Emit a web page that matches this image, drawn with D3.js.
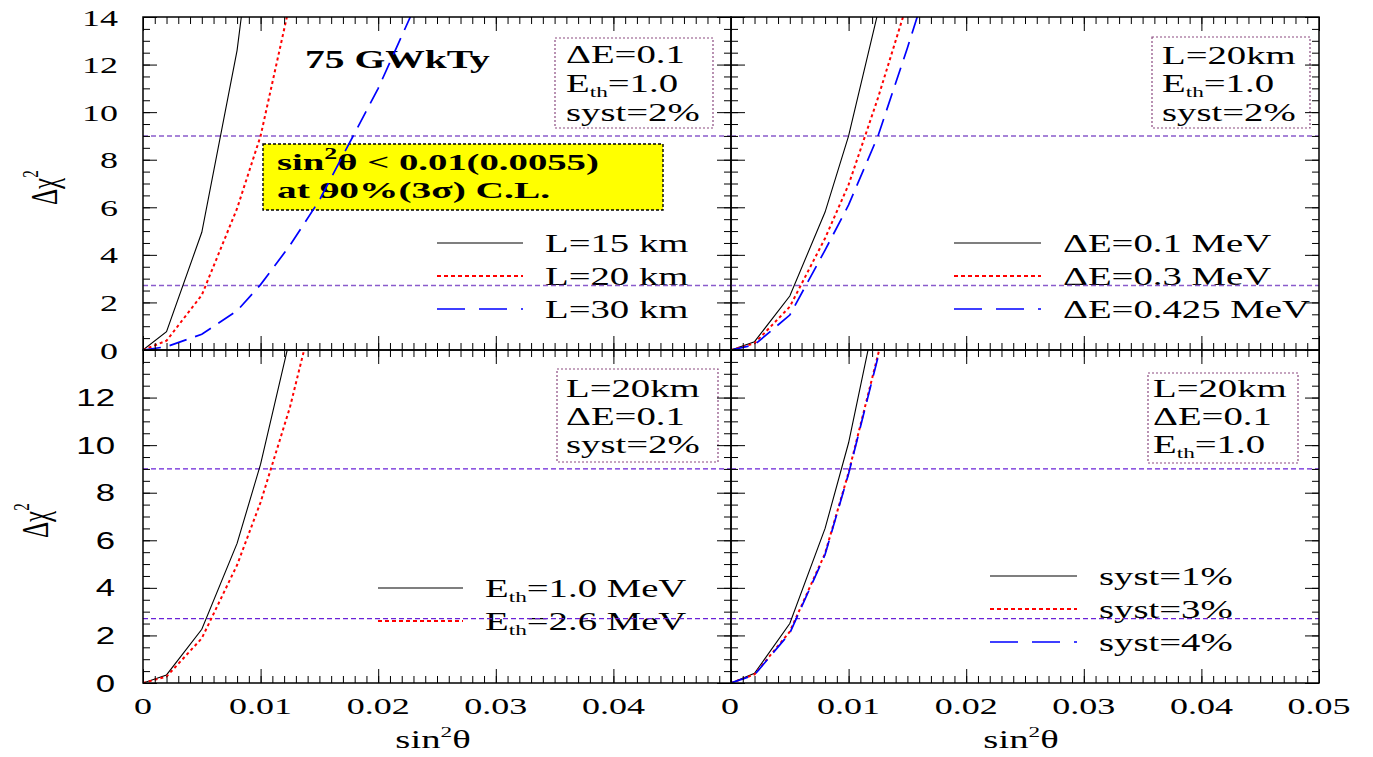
<!DOCTYPE html>
<html><head><meta charset="utf-8">
<script src="https://cdn.jsdelivr.net/npm/d3@7"></script>
<style>body{margin:0;background:#fff} svg{display:block}</style>
</head><body>
<svg id="c" width="1373" height="757"></svg>
<script>
// ---------------- DATA ----------------
const sinSq = [0, 0.002, 0.005, 0.008, 0.010, 0.0125, 0.015, 0.020, 0.025];
// top-left : baseline dependence
const chiL15 = [0, 0.77, 4.95, 12.6, 20.4, 30, 40, 60, 85];
const chiL20 = [0, 0.39, 2.31, 5.95, 9.0, 14.6, 20.5, 32, 46];
const chiL30 = [0, 0.14, 0.66, 1.65, 2.75, 4.4, 6.3, 11.0, 16.5];
// top-right : energy resolution
const chiDE01 = [0, 0.35, 2.27, 5.8, 9.0, 14.2, 19.5, 30, 42];
const chiDE03 = [0, 0.28, 1.82, 4.7, 6.95, 10.6, 14.6, 23, 33];
const chiDE0425 = [0, 0.22, 1.47, 4.2, 6.1, 9.0, 12.7, 20.5, 29];
// bottom-left : threshold
const chiEth10 = [0, 0.34, 2.26, 5.87, 9.2, 14.5, 19.8, 31, 43];
const chiEth26 = [0, 0.27, 1.88, 4.96, 7.6, 11.6, 16.6, 26, 37];
// bottom-right : systematics
const chiSyst1 = [0, 0.41, 2.5, 6.5, 10.1, 16.0, 22, 34, 48];
const chiSyst3 = [0, 0.36, 2.16, 5.45, 8.85, 13.8, 19, 30, 42];
const chiSyst4 = [0, 0.34, 2.1, 5.4, 8.8, 13.7, 18.9, 29.8, 41.5];

const clLevels = [9, 2.71];
const yMajor = [0, 2, 4, 6, 8, 10, 12, 14];
const yLabelsTop = ["0", "2", "4", "6", "8", "10", "12", "14"];
const yLabelsBottom = ["0", "2", "4", "6", "8", "10", "12"];
const xMajor = [0, 0.01, 0.02, 0.03, 0.04, 0.05];
const xLabels = ["0", "0.01", "0.02", "0.03", "0.04", "0.05"];

// ---------------- DRAW ----------------
const svg = d3.select("#c");
const SX = 1.55;
const SERIF = "'Liberation Serif','Times New Roman',serif";
const SANS = "'Liberation Sans',Arial,sans-serif";

function stext(parent, x, y, parts, o = {}) {
  const t = parent.append("text")
    .attr("font-family", o.family || SERIF)
    .attr("font-size", o.size || 25)
    .attr("font-weight", o.weight || "normal")
    .attr("text-anchor", o.anchor || "start")
    .attr("fill", "#000");
  let cur = 0;
  parts.forEach(p => {
    if (typeof p === "string") p = {t: p};
    const s = t.append("tspan").text(p.t);
    const target = p.shift || 0;
    if (target !== cur) { s.attr("dy", target - cur); cur = target; }
    if (p.size) s.attr("font-size", p.size);
  });
  let sx = o.sx || SX;
  if (o.width) sx = o.width / t.node().getComputedTextLength();
  t.attr("transform", `translate(${x},${y}) scale(${sx},1)` + (o.rot ? ` rotate(${o.rot})` : ""));
  return t;
}

const styles = {
  solid: {stroke: "#000", w: 1.1, dash: null, ldash: null},
  dot: {stroke: "#ff0000", w: 2, dash: "3,3", ldash: "4,3"},
  dash: {stroke: "#0000ff", w: 1.7, dash: "18,9", ldash: "28,14"}
};

const Eth = v => ["E", {t: "th", size: 15, shift: 5}, {t: "=" + v}];

const panels = [
  {x0: 143, x1: 731, y0: 17, y1: 350, top: true,
   series: [[chiL15, "solid", ["L=15 km"]], [chiL20, "dot", ["L=20 km"]], [chiL30, "dash", ["L=30 km"]]],
   leg: {lx0: 437, lx1: 523, tx: 545, rows: [243, 276, 309]},
   box: {x0: 555, x1: 713, y0: 38, y1: 128, tx: 566, lines: [[["ΔE=0.1"], 63], [Eth("1.0"), 92], [["syst=2%"], 121]]}},
  {x0: 731, x1: 1319, y0: 17, y1: 350, top: true,
   series: [[chiDE01, "solid", ["ΔE=0.1 MeV"]], [chiDE03, "dot", ["ΔE=0.3 MeV"]], [chiDE0425, "dash", ["ΔE=0.425 MeV"]]],
   leg: {lx0: 954, lx1: 1041, tx: 1063, rows: [243, 276, 309]},
   box: {x0: 1152, x1: 1310, y0: 37, y1: 128, tx: 1162, lines: [[["L=20km"], 64], [Eth("1.0"), 92], [["syst=2%"], 121]]}},
  {x0: 143, x1: 731, y0: 350, y1: 683, top: false,
   series: [[chiEth10, "solid", Eth("1.0 MeV")], [chiEth26, "dot", Eth("2.6 MeV")]],
   leg: {lx0: 378, lx1: 463, tx: 485, rows: [588, 621]},
   box: {x0: 557, x1: 718, y0: 369, y1: 462, tx: 566, lines: [[["L=20km"], 397], [["ΔE=0.1"], 425], [[" syst=2%"], 453]]}},
  {x0: 731, x1: 1319, y0: 350, y1: 683, top: false,
   series: [[chiSyst1, "solid", ["syst=1%"]], [chiSyst3, "dot", ["syst=3%"]], [chiSyst4, "dash", ["syst=4%"]]],
   leg: {lx0: 990, lx1: 1077, tx: 1099, rows: [576, 609, 642]},
   box: {x0: 1148, x1: 1298, y0: 373, y1: 463, tx: 1153, lines: [[["L=20km"], 397], [["ΔE=0.1"], 425], [Eth("1.0"), 453]]}}
];

panels.forEach((p, i) => {
  const x = d3.scaleLinear().domain([0, 0.05]).range([p.x0, p.x1]);
  const y = d3.scaleLinear().domain([0, 14]).range([p.y1, p.y0]);
  const g = svg.append("g");
  const cid = "clip" + i;
  svg.append("clipPath").attr("id", cid).append("rect")
    .attr("x", p.x0).attr("y", p.y0).attr("width", p.x1 - p.x0).attr("height", p.y1 - p.y0);

  // info box
  const b = p.box;
  g.append("rect").attr("x", b.x0).attr("y", b.y0).attr("width", b.x1 - b.x0).attr("height", b.y1 - b.y0)
    .attr("fill", "none").attr("stroke", "#8b4a80").attr("stroke-width", 1.2).attr("stroke-dasharray", "2,2");
  b.lines.forEach(([parts, by]) => stext(g, b.tx, by, parts));

  // legend
  p.series.forEach(([vals, st, label], k) => {
    const s = styles[st];
    const ly = p.leg.rows[k];
    g.append("line").attr("x1", p.leg.lx0).attr("x2", p.leg.lx1).attr("y1", ly).attr("y2", ly)
      .attr("stroke", s.stroke).attr("stroke-width", s.w).attr("stroke-dasharray", s.ldash);
    stext(g, p.leg.tx, ly + 9, label);
  });

  // extra annotations in top-left
  if (i === 0) {
    g.append("rect").attr("x", 263).attr("y", 144).attr("width", 400).attr("height", 66)
      .attr("fill", "#ffff00").attr("stroke", "#000").attr("stroke-width", 1.4).attr("stroke-dasharray", "3,2");
    stext(g, 277, 170, ["sin", {t: "2", size: 16, shift: -11}, {t: "θ < 0.01(0.0055)"}], {weight: "bold", size: 24, width: 322});
    stext(g, 277, 198, ["at 90%(3σ) C.L."], {weight: "bold", size: 24, width: 273});
    stext(g, 305, 68, ["75 GWkTy"], {weight: "bold", size: 26, width: 185});
  }

  // curves
  const cg = g.append("g").attr("clip-path", `url(#${cid})`);
  const line = d3.line().x(d => x(d[0])).y(d => y(d[1]));
  clLevels.forEach(lv => {
    cg.append("line").attr("x1", p.x0).attr("x2", p.x1).attr("y1", y(lv)).attr("y2", y(lv))
      .attr("stroke", p.top ? "#8a5ccc" : "#6a22d8").attr("stroke-width", p.top ? 1.6 : 1.3)
      .attr("stroke-dasharray", "5,3");
  });
  p.series.forEach(([vals, st]) => {
    const s = styles[st];
    cg.append("path").datum(sinSq.map((v, j) => [v, vals[j]]))
      .attr("d", line).attr("fill", "none").attr("stroke", s.stroke)
      .attr("stroke-width", s.w).attr("stroke-dasharray", s.dash);
  });

  // ticks
  const yMinor = d3.range(0, 14.01, 0.5);
  const xMinor = d3.range(0, 0.05001, 0.001);
  const tk = (axis, tr) => {
    const a = g.append("g").attr("transform", tr).call(axis);
    a.select(".domain").remove();
    a.selectAll("line").attr("stroke", "#000").attr("stroke-width", 1);
  };
  tk(d3.axisRight(y).tickValues(yMajor).tickSize(14).tickSizeOuter(0).tickFormat(""), `translate(${p.x0},0)`);
  tk(d3.axisRight(y).tickValues(yMinor).tickSize(7).tickSizeOuter(0).tickFormat(""), `translate(${p.x0},0)`);
  tk(d3.axisLeft(y).tickValues(yMajor).tickSize(14).tickSizeOuter(0).tickFormat(""), `translate(${p.x1},0)`);
  tk(d3.axisLeft(y).tickValues(yMinor).tickSize(7).tickSizeOuter(0).tickFormat(""), `translate(${p.x1},0)`);
  tk(d3.axisBottom(x).tickValues(xMajor).tickSize(14).tickSizeOuter(0).tickFormat(""), `translate(0,${p.y0})`);
  tk(d3.axisBottom(x).tickValues(xMinor).tickSize(7).tickSizeOuter(0).tickFormat(""), `translate(0,${p.y0})`);
  tk(d3.axisTop(x).tickValues(xMajor).tickSize(14).tickSizeOuter(0).tickFormat(""), `translate(0,${p.y1})`);
  tk(d3.axisTop(x).tickValues(xMinor).tickSize(7).tickSizeOuter(0).tickFormat(""), `translate(0,${p.y1})`);

  g.append("rect").attr("x", p.x0).attr("y", p.y0).attr("width", p.x1 - p.x0).attr("height", p.y1 - p.y0)
    .attr("fill", "none").attr("stroke", "#000").attr("stroke-width", 1.5);

  // tick labels
  if (i === 0) {
    yLabelsTop.forEach((l, k) => stext(svg, 118, y(yMajor[k]) + 8.5, [l], {anchor: "end", size: 24, sx: 1.5}));
  }
  if (i === 2) {
    yLabelsBottom.forEach((l, k) => stext(svg, 115, y(yMajor[k]) + 8.5, [l], {anchor: "end", size: 24, family: SANS, sx: 1.45}));
  }
  if (i === 2 || i === 3) {
    const n = i === 2 ? 5 : 6;
    xLabels.slice(0, n).forEach((l, k) => stext(svg, x(xMajor[k]) - (k === 0 && i === 3 ? 1 : 0), 714, [l], {anchor: "middle", size: 24, sx: 1.5}));
    stext(svg, i === 2 ? 433 : 1021, 748, ["sin", {t: "2", size: 15, shift: -11}, {t: "θ", shift: 0}], {anchor: "middle", size: 25});
  }
});

// y-axis titles
stext(svg, 57, 205, ["Δχ", {t: "2", size: 15, shift: -12}], {rot: -90, size: 25});
stext(svg, 48, 538, ["Δχ", {t: "2", size: 15, shift: -12}], {rot: -90, size: 25});
</script>
</body></html>
